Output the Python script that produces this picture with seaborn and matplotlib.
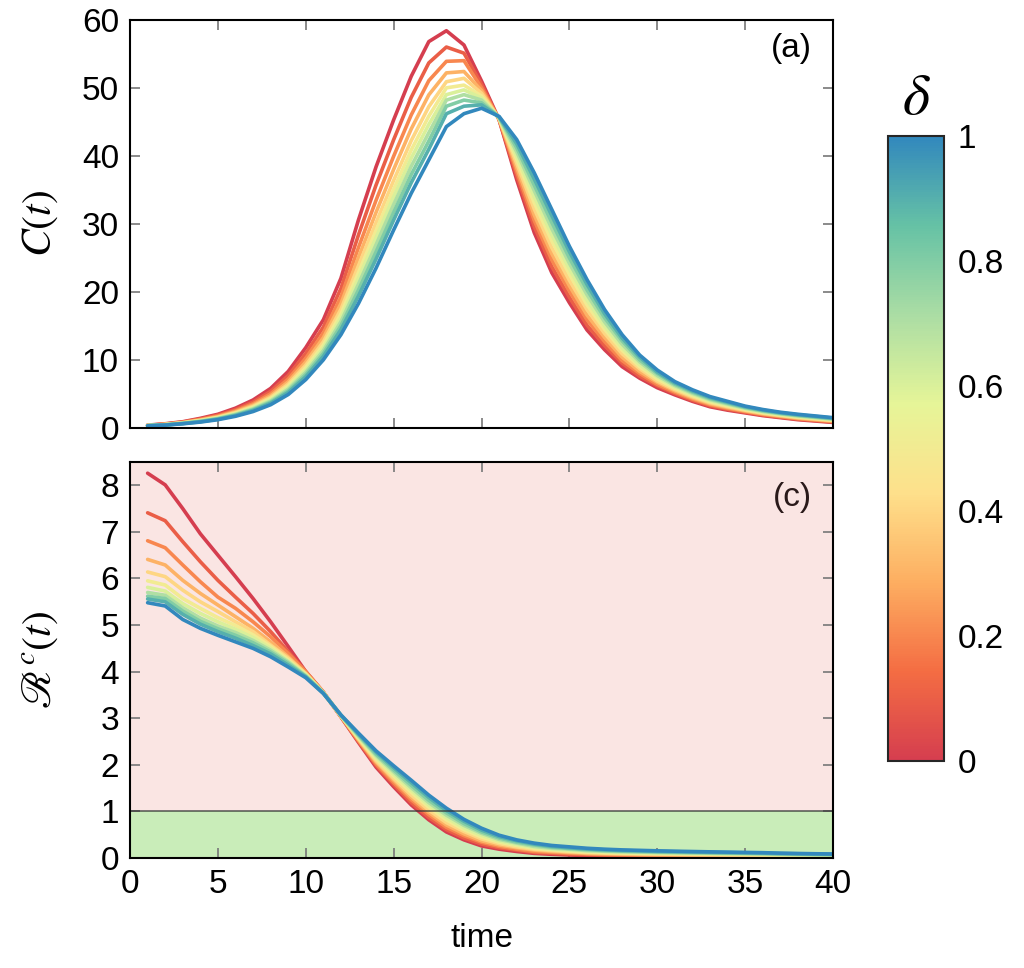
import numpy as np
import pandas as pd
import matplotlib
matplotlib.use('Agg')
import matplotlib.pyplot as plt
from matplotlib.colors import LinearSegmentedColormap, Normalize
from matplotlib.cm import ScalarMappable
import seaborn as sns

# time steps and delta values
time = list(range(1, 41))
deltas = [0.0, 0.1, 0.2, 0.3, 0.4, 0.5, 0.6, 0.7, 0.8, 0.9, 1.0]

# C(t), one list per delta
c_00 = [.4, .6, .9, 1.4, 2.0, 2.9, 4.1, 5.8, 8.3, 11.8, 15.9, 22.0, 30.6, 38.4, 45.3, 51.7, 56.8, 58.4, 56.3, 51.0,
        45.3, 36.5, 28.7, 22.8, 18.4, 14.4, 11.5, 9.0, 7.3, 5.9, 4.85, 3.9, 3.1, 2.6, 2.2, 1.8, 1.5, 1.2, 1.0, 0.8]
c_01 = [.38, .56, .85, 1.3, 1.86, 2.68, 3.79, 5.37, 7.69, 10.95, 14.84, 20.51, 28.39, 35.72, 42.38, 48.6, 53.67, 56.0, 55.1, 50.5,
        45.3, 37.1, 29.6, 23.7, 19.2, 15.1, 12.1, 9.5, 7.6, 6.2, 5.05, 4.07, 3.25, 2.73, 2.3, 1.89, 1.58, 1.28, 1.08, 0.87]
c_02 = [.37, .53, .8, 1.22, 1.74, 2.5, 3.54, 5.01, 7.18, 10.25, 13.95, 19.26, 26.54, 33.48, 39.95, 46.02, 51.06, 53.9, 54.0, 50.0,
        45.4, 37.7, 30.5, 24.7, 20.1, 15.9, 12.7, 9.9, 8.0, 6.4, 5.24, 4.24, 3.4, 2.86, 2.4, 1.98, 1.66, 1.36, 1.15, 0.94]
c_03 = [.36, .51, .77, 1.15, 1.64, 2.36, 3.34, 4.72, 6.77, 9.69, 13.25, 18.27, 25.07, 31.7, 38.01, 43.96, 48.97, 52.2, 52.4, 49.6,
        45.4, 38.3, 31.3, 25.6, 20.9, 16.6, 13.3, 10.4, 8.3, 6.7, 5.44, 4.41, 3.55, 2.99, 2.5, 2.07, 1.74, 1.44, 1.23, 1.01]
c_04 = [.35, .49, .74, 1.1, 1.56, 2.24, 3.17, 4.48, 6.43, 9.22, 12.66, 17.44, 23.84, 30.2, 36.39, 42.24, 47.23, 50.9, 51.4, 49.2,
        45.5, 38.9, 32.2, 26.5, 21.7, 17.4, 13.9, 10.9, 8.7, 6.9, 5.63, 4.58, 3.7, 3.12, 2.6, 2.16, 1.82, 1.52, 1.3, 1.08]
c_05 = [.34, .47, .71, 1.05, 1.5, 2.14, 3.03, 4.29, 6.16, 8.84, 12.18, 16.77, 22.85, 29.01, 35.09, 40.86, 45.84, 50.0, 50.4, 48.8,
        45.5, 39.5, 33.1, 27.5, 22.6, 18.1, 14.5, 11.4, 9.0, 7.2, 5.83, 4.75, 3.85, 3.25, 2.7, 2.25, 1.9, 1.6, 1.38, 1.15]
c_06 = [.33, .46, .69, 1.02, 1.44, 2.06, 2.91, 4.12, 5.92, 8.51, 11.77, 16.19, 21.99, 27.97, 33.96, 39.66, 44.62, 49.0, 49.7, 48.5,
        45.6, 40.0, 34.0, 28.4, 23.4, 18.8, 15.0, 11.8, 9.3, 7.5, 6.02, 4.92, 4.0, 3.38, 2.8, 2.34, 1.98, 1.68, 1.45, 1.22]
c_07 = [.32, .45, .67, .98, 1.38, 1.98, 2.79, 3.95, 5.68, 8.18, 11.36, 15.61, 21.13, 26.93, 32.83, 38.46, 43.4, 48.2, 49.0, 48.2,
        45.6, 40.6, 34.9, 29.3, 24.2, 19.6, 15.6, 12.3, 9.7, 7.7, 6.22, 5.09, 4.15, 3.51, 2.9, 2.43, 2.06, 1.76, 1.53, 1.29]
c_08 = [.32, .43, .65, .94, 1.33, 1.89, 2.67, 3.78, 5.44, 7.85, 10.94, 15.03, 20.27, 25.88, 31.69, 37.25, 42.18, 47.3, 48.2, 47.8,
        45.7, 41.2, 35.7, 30.2, 25.0, 20.3, 16.2, 12.8, 10.0, 8.0, 6.41, 5.26, 4.3, 3.64, 3.0, 2.52, 2.14, 1.84, 1.6, 1.36]
c_09 = [.31, .42, .63, .9, 1.27, 1.81, 2.55, 3.62, 5.21, 7.52, 10.53, 14.45, 19.41, 24.84, 30.56, 36.05, 40.97, 46.2, 47.3, 47.5,
        45.7, 41.8, 36.6, 31.2, 25.9, 21.1, 16.8, 13.2, 10.4, 8.2, 6.61, 5.43, 4.45, 3.77, 3.1, 2.61, 2.22, 1.92, 1.68, 1.43]
c_10 = [.3, .4, .6, .85, 1.2, 1.7, 2.4, 3.4, 4.9, 7.1, 10.0, 13.7, 18.3, 23.5, 29.1, 34.5, 39.4, 44.3, 46.2, 47.0,
        45.8, 42.4, 37.5, 32.1, 26.7, 21.8, 17.4, 13.7, 10.7, 8.5, 6.8, 5.6, 4.6, 3.9, 3.2, 2.7, 2.3, 2.0, 1.75, 1.5]

# R^c(t), one list per delta
r_00 = [8.26, 8.01, 7.5, 6.96, 6.5, 6.04, 5.57, 5.07, 4.54, 4.0, 3.56, 3.03, 2.48, 1.95, 1.53, 1.14, .82, .56, .39, .26,
        .19, .14, .1, .08, .065, .055, .048, .043, .04, .037, .035, .033, .032, .031, .03, .029, .028, .027, .026, .025]
r_01 = [7.41, 7.24, 6.79, 6.36, 5.96, 5.6, 5.25, 4.86, 4.43, 4.0, 3.56, 3.03, 2.5, 1.99, 1.58, 1.19, .87, .61, .43, .3,
        .22, .17, .12, .1, .08, .07, .062, .056, .052, .049, .046, .044, .042, .041, .039, .038, .036, .034, .033, .031]
r_02 = [6.81, 6.66, 6.29, 5.93, 5.6, 5.36, 5.07, 4.75, 4.39, 4.0, 3.56, 3.04, 2.52, 2.02, 1.62, 1.25, .93, .66, .48, .34,
        .25, .19, .14, .12, .1, .086, .076, .07, .065, .06, .057, .054, .052, .05, .048, .046, .043, .041, .039, .037]
r_03 = [6.41, 6.29, 5.96, 5.68, 5.43, 5.18, 4.93, 4.64, 4.32, 3.96, 3.55, 3.04, 2.54, 2.06, 1.67, 1.3, .98, .71, .52, .37,
        .28, .22, .17, .14, .12, .1, .09, .083, .077, .072, .069, .065, .062, .06, .057, .055, .051, .048, .046, .044]
r_04 = [6.14, 6.04, 5.75, 5.5, 5.29, 5.07, 4.86, 4.57, 4.29, 3.96, 3.55, 3.05, 2.56, 2.09, 1.71, 1.35, 1.03, .76, .57, .41,
        .31, .24, .19, .16, .135, .117, .105, .096, .09, .084, .08, .076, .072, .069, .066, .063, .059, .055, .052, .05]
r_05 = [5.95, 5.86, 5.57, 5.36, 5.16, 4.99, 4.79, 4.54, 4.25, 3.94, 3.55, 3.05, 2.58, 2.13, 1.76, 1.41, 1.09, .82, .61, .45,
        .34, .27, .21, .18, .15, .13, .12, .11, .1, .096, .091, .087, .083, .079, .076, .072, .067, .063, .059, .056]
r_06 = [5.81, 5.73, 5.46, 5.25, 5.07, 4.91, 4.73, 4.5, 4.23, 3.93, 3.55, 3.05, 2.6, 2.16, 1.8, 1.46, 1.14, .87, .65, .49,
        .37, .29, .23, .19, .17, .148, .133, .122, .115, .108, .102, .097, .093, .089, .085, .081, .074, .07, .066, .062]
r_07 = [5.7, 5.64, 5.37, 5.15, 4.98, 4.84, 4.67, 4.46, 4.21, 3.91, 3.54, 3.06, 2.62, 2.2, 1.85, 1.51, 1.19, .92, .7, .53,
        .4, .32, .25, .21, .19, .16, .147, .135, .128, .12, .113, .108, .103, .098, .094, .089, .082, .077, .072, .068]
r_08 = [5.62, 5.57, 5.3, 5.08, 4.92, 4.78, 4.62, 4.42, 4.18, 3.9, 3.54, 3.06, 2.64, 2.23, 1.89, 1.56, 1.24, .97, .74, .56,
        .43, .34, .28, .23, .205, .18, .16, .148, .14, .131, .125, .119, .113, .108, .103, .098, .09, .084, .079, .075]
r_09 = [5.56, 5.5, 5.23, 5.02, 4.86, 4.72, 4.56, 4.38, 4.14, 3.89, 3.54, 3.07, 2.66, 2.27, 1.94, 1.62, 1.3, 1.02, .79, .6,
        .46, .37, .3, .25, .22, .195, .175, .162, .152, .143, .136, .129, .123, .117, .112, .106, .097, .091, .085, .081]
r_10 = [5.48, 5.41, 5.12, 4.93, 4.78, 4.64, 4.5, 4.32, 4.1, 3.87, 3.53, 3.07, 2.68, 2.3, 1.98, 1.67, 1.35, 1.07, .83, .64,
        .49, .39, .32, .27, .24, .21, .19, .175, .165, .155, .147, .14, .133, .127, .121, .115, .105, .098, .092, .087]

c_lists = [c_00, c_01, c_02, c_03, c_04, c_05, c_06, c_07, c_08, c_09, c_10]
r_lists = [r_00, r_01, r_02, r_03, r_04, r_05, r_06, r_07, r_08, r_09, r_10]

# long table for seaborn
frames = []
for d, c, r in zip(deltas, c_lists, r_lists):
    frames.append(pd.DataFrame({'time': time, 'delta': d, 'C': c, 'R': r}))
df = pd.concat(frames, ignore_index=True)

sns.set_style('ticks')
plt.rcParams['font.family'] = ['Liberation Sans', 'DejaVu Sans']
plt.rcParams['mathtext.fontset'] = 'stix'
plt.rcParams['text.color'] = 'black'
plt.rcParams['axes.labelcolor'] = 'black'

# 8-class brewer Spectral without the darkest ends
spectral8 = ['#d53e4f', '#f46d43', '#fdae61', '#fee08b',
             '#e6f598', '#abdda4', '#66c2a5', '#3288bd']
cmap = LinearSegmentedColormap.from_list('spec8', spectral8)
pal = {d: cmap(d) for d in deltas}

fig = plt.figure(figsize=(10.24, 9.68), dpi=100)
ax1 = fig.add_axes([0.127, 0.558, 0.6865, 0.4215])
ax2 = fig.add_axes([0.127, 0.1136, 0.6865, 0.4091])
cax = fig.add_axes([0.8672, 0.2138, 0.0547, 0.6457])

sns.lineplot(data=df, x='time', y='C', hue='delta', palette=pal, legend=False,
             linewidth=2.6, ax=ax1)
sns.lineplot(data=df, x='time', y='R', hue='delta', palette=pal, legend=False,
             linewidth=2.6, ax=ax2)

# background bands for R
ax2.axhspan(1, 8.5, color='#fae5e3', zorder=0, lw=0)
ax2.axhspan(0, 1, color='#c9edb9', zorder=0, lw=0)
ax2.axhline(1, color='#333333', lw=1.4, alpha=0.65, zorder=5)

for ax in (ax1, ax2):
    ax.set_xlim(0, 40)
    ax.set_xticks(range(0, 41, 5))
    ax.tick_params(direction='in', top=True, right=True, length=7, width=1.2,
                   color='#777777', labelcolor='black', labelsize=24, pad=8)
    for s in ax.spines.values():
        s.set_linewidth(1.5)
        s.set_color('black')
        s.set_zorder(6)

ax1.set_ylim(0, 60)
ax1.set_yticks(range(0, 61, 10))
ax1.set_xticklabels([])
ax1.set_xlabel('')
ax1.set_ylabel(r'$C(t)$', fontsize=30)
ax1.yaxis.set_label_coords(-0.1, 0.5)
ax1.text(0.97, 0.968, '(a)', transform=ax1.transAxes, ha='right', va='top', fontsize=24)

ax2.set_ylim(0, 8.5)
ax2.set_yticks(range(0, 9))
ax2.set_ylabel(r'$\mathscr{R}^c(t)$', fontsize=30)
ax2.yaxis.set_label_coords(-0.1, 0.5)
ax2.set_xlabel('time', fontsize=24)
ax2.xaxis.set_label_coords(0.5, -0.165)
ax2.text(0.97, 0.95, '(c)', transform=ax2.transAxes, ha='right', va='top',
         fontsize=24, color='#2a1a1a')

# colorbar
sm = ScalarMappable(norm=Normalize(0, 1), cmap=cmap)
cb = fig.colorbar(sm, cax=cax, ticks=[0, 0.2, 0.4, 0.6, 0.8, 1])
cb.ax.set_yticklabels(['0', '0.2', '0.4', '0.6', '0.8', '1'])
cb.outline.set_linewidth(1.5)
cax.tick_params(direction='in', left=True, right=True, length=8, width=1.2,
                color='black', labelcolor='black', labelsize=24, pad=10)
fig.text(0.8945, 0.898, r'$\delta$', fontsize=42, ha='center', va='center')

fig.savefig('out.png', dpi=100)
